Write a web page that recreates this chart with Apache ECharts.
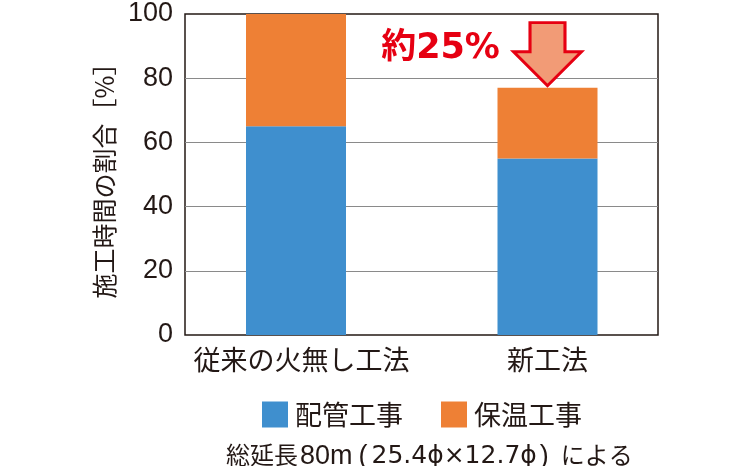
<!DOCTYPE html>
<html>
<head>
<meta charset="utf-8">
<script src="https://cdn.jsdelivr.net/npm/echarts@6/dist/echarts.min.js"></script>
<style>html,body{margin:0;padding:0;background:#fff;}#c{width:750px;height:466px;}</style>
</head>
<body>
<div id="c"></div>
<script>
const categories = ['従来の火無し工法', '新工法'];
const pipingWork = [65, 55];       // 配管工事
const insulationWork = [35, 22];   // 保温工事
const yTicks = [0, 20, 40, 60, 80, 100];
const seriesNames = ['配管工事', '保温工事'];
const reductionLabel = '約25%';
const yAxisName = '施工時間の割合［%］';
const footnoteParts = ['総延長', '80m', '(', '25.4ϕ×12.7ϕ', ')', 'による'];

const TXT = '#231815';
const CJK = '"Noto Sans CJK JP", "Noto Sans", sans-serif';
const NUM = '"Liberation Sans", "Noto Sans", sans-serif';
const NUM2 = '"DejaVu Sans", "Liberation Sans", sans-serif';

const chart = echarts.init(document.getElementById('c'), null, {renderer: 'canvas'});
chart.setOption({
  backgroundColor: '#fff',
  animation: false,
  title: {
    text: '{a|' + footnoteParts[0] + '}{b|' + footnoteParts[1] + '}{l|' + footnoteParts[2] + '}{c|' + footnoteParts[3] + '}{r|' + footnoteParts[4] + '}{a|' + footnoteParts[5] + '}',
    left: 221, top: 438,
    textStyle: {
      fontSize: 24, fontWeight: 'normal', color: TXT, fontFamily: CJK,
      rich: {
        a: {fontSize: 24, color: TXT, fontFamily: CJK, padding: [0, 0, 4, 0]},
        b: {fontSize: 27, color: TXT, fontFamily: NUM, padding: [0, 0, 0, 2]},
        l: {fontSize: 27, color: TXT, fontFamily: NUM, padding: [0, 4, 0, 6]},
        c: {fontSize: 25, color: TXT, fontFamily: NUM2},
        r: {fontSize: 27, color: TXT, fontFamily: NUM, padding: [0, 12, 0, 3]}
      }
    }
  },
  legend: {
    data: seriesNames,
    left: 257, top: 396,
    icon: 'rect',
    itemWidth: 26, itemHeight: 26,
    itemGap: 38,
    textStyle: {fontSize: 27, color: TXT, fontFamily: CJK, padding: [0, 0, 0, 2]}
  },
  grid: [
    {left: 185, right: 92, top: 14, bottom: 131, show: true, borderColor: TXT, borderWidth: 1.5, backgroundColor: 'transparent'},
    {left: 170.25, right: 76.75, top: 14, bottom: 131}
  ],
  xAxis: [
    {type: 'category', gridIndex: 0, data: categories, axisLine: {show: false}, axisTick: {show: false}, axisLabel: {show: false}},
    {type: 'category', gridIndex: 1,
     data: categories.map((c, i) => i === 0 ? {value: c, textStyle: {padding: [0, 0, 0, 11]}} : c),
     axisLine: {show: false}, axisTick: {show: false},
     axisLabel: {interval: 0, fontSize: 27, color: TXT, fontFamily: CJK, margin: 11}}
  ],
  yAxis: [
    {type: 'value', gridIndex: 0, min: yTicks[0], max: yTicks[yTicks.length - 1], interval: 20,
     name: yAxisName, nameLocation: 'middle', nameGap: 68,
     nameTextStyle: {fontSize: 25, color: TXT, fontFamily: CJK},
     axisLine: {show: false}, axisTick: {show: false},
     axisLabel: {fontSize: 27, color: TXT, fontFamily: NUM, margin: 12},
     splitLine: {show: true, showMinLine: false, showMaxLine: false, lineStyle: {color: '#8a8a8a', width: 1}}},
    {type: 'value', gridIndex: 1, min: yTicks[0], max: yTicks[yTicks.length - 1], interval: 20, show: false, splitLine: {show: false}}
  ],
  series: [
    {name: seriesNames[0], type: 'bar', stack: 'total', xAxisIndex: 1, yAxisIndex: 1,
     data: pipingWork, barWidth: 100, itemStyle: {color: '#3f8fce'}},
    {name: seriesNames[1], type: 'bar', stack: 'total', xAxisIndex: 1, yAxisIndex: 1,
     data: insulationWork, barWidth: 100, itemStyle: {color: '#ee8035'},
     markPoint: {
       silent: true,
       data: [{
         coord: [categories[1], 87.5],
         symbol: 'path://M17,0L53,0L53,30L70,30L35,65L0,30L17,30Z',
         symbolSize: [68, 63],
         itemStyle: {color: '#f29b76', borderColor: '#e60012', borderWidth: 3},
         label: {show: true, formatter: reductionLabel, position: 'left', distance: 12, offset: [0, -5],
                 color: '#e60012', fontSize: 35, fontWeight: 'bold', fontFamily: '"DejaVu Sans", "Noto Sans CJK JP", sans-serif'}
       }]
     }}
  ]
});
</script>
</body>
</html>
